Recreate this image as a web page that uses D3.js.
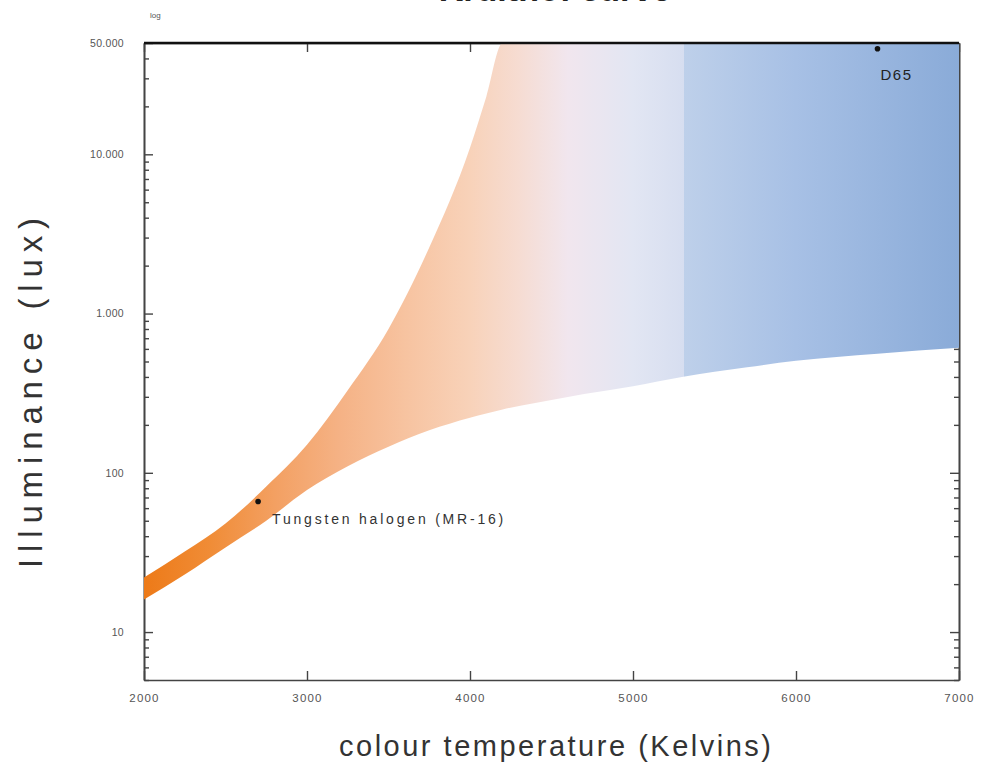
<!DOCTYPE html>
<html>
<head>
<meta charset="utf-8">
<script src="https://cdn.jsdelivr.net/npm/d3@7"></script>
<style>
body { margin:0; background:#fff; }
text { font-family:"Liberation Sans", Arial, sans-serif; }
</style>
</head>
<body>
<div class="chart"></div>
<script>
// colour temperature (K) and the band edges of the comfort zone (lux)
var kelvin   = [2000, 2250, 2500, 2750, 3000, 3250, 3500, 3750, 4000, 4100, 4200, 4400, 4700, 5000, 5300, 5700, 6000, 6500, 7000];
var upperLux = [22, 32, 48, 82, 150, 330, 800, 2600, 11000, 23000, 50000, 50000, 50000, 50000, 50000, 50000, 50000, 50000, 50000];
var lowerLux = [16, 23, 34, 50, 78, 110, 146, 185, 222, 236, 250, 274, 312, 350, 400, 460, 505, 560, 610];

// fill colour along the temperature axis
var gradKelvin = [2000, 2400, 2800, 3200, 3600, 4000, 4300, 4600, 5000, 5310, 5310, 6000, 7000];
var gradColors = ["#ed7a18", "#f08c36", "#f3a062", "#f5b285", "#f7c3a0", "#f8d2b9", "#f6dcd2", "#f1e6ee", "#e2e6f3", "#d7def0", "#bed0ea", "#a7c0e5", "#8aabd8"];

// ticks
var xTicks = [2000, 3000, 4000, 5000, 6000, 7000];
var yMajor = [10, 100, 1000, 10000, 50000];
var yLabels = ["10", "100", "1.000", "10.000", "50.000"];

// marked light sources
var points = [
    {name:"Tungsten halogen (MR-16)", k:2700, lux:66},
    {name:"D65", k:6500, lux:46000}
];

var W = 989, H = 767;
var x = d3.scaleLinear().domain([2000, 7000]).range([144, 959]);
var y = d3.scaleLog().domain([5, 50000]).range([680, 43]);

//minor log ticks 2..9 in every decade
var yMinor = [];
[1, 10, 100, 1000, 10000].forEach(function(d){
    d3.range(2, 10).forEach(function(m){
        var v = d*m;
        if (v >= 5 && v < 50000) yMinor.push(v);
    });
});

var svg = d3.select(".chart").append("svg").attr("width", W).attr("height", H);

// title, mostly cut off at the top edge
svg.append("text").attr("x", 555).attr("y", 1).attr("text-anchor", "middle")
    .attr("font-size", 34).attr("font-weight", "bold").attr("fill", "#222")
    .text("Kruithof curve");

svg.append("text").attr("x", 150).attr("y", 18).attr("font-size", 8).attr("fill", "#555").text("log");

function styleAxis(g, fs, ls){
    g.selectAll("path.domain").attr("stroke", "#444").attr("stroke-width", 1.6);
    g.selectAll(".tick line").attr("stroke", "#444").attr("stroke-width", 1.4);
    g.selectAll(".tick text").attr("fill", "#555").attr("font-size", fs || 10)
        .attr("letter-spacing", ls || 0).attr("font-family", "Liberation Sans, Arial, sans-serif");
}

//left axis: major + minor
var gl = svg.append("g").attr("transform", "translate(" + x(2000) + ",0)")
    .call(d3.axisLeft(y).tickValues(yMajor).tickFormat(function(d, i){ return yLabels[i]; })
        .tickSizeInner(-9).tickSizeOuter(0).tickPadding(20));
styleAxis(gl, 10.5, 0.3);
var glm = svg.append("g").attr("transform", "translate(" + x(2000) + ",0)")
    .call(d3.axisLeft(y).tickValues(yMinor).tickFormat("").tickSizeInner(-5).tickSizeOuter(0));
styleAxis(glm);

//right axis
var gr = svg.append("g").attr("transform", "translate(" + x(7000) + ",0)")
    .call(d3.axisRight(y).tickValues(yMajor).tickFormat("").tickSizeInner(-9).tickSizeOuter(0));
styleAxis(gr);
var grm = svg.append("g").attr("transform", "translate(" + x(7000) + ",0)")
    .call(d3.axisRight(y).tickValues(yMinor).tickFormat("").tickSizeInner(-5).tickSizeOuter(0));
styleAxis(grm);

//bottom axis
var gb = svg.append("g").attr("transform", "translate(0," + y(5) + ")")
    .call(d3.axisBottom(x).tickValues(xTicks).tickFormat(d3.format("d"))
        .tickSizeInner(-9).tickSizeOuter(0).tickPadding(14));
styleAxis(gb, 11.5, 1.2);

//top ticks
var gt = svg.append("g").attr("transform", "translate(0," + y(50000) + ")")
    .call(d3.axisTop(x).tickValues(xTicks).tickFormat("").tickSizeInner(-9).tickSizeOuter(0));
styleAxis(gt);

// gradient for the band
var grad = svg.append("defs").append("linearGradient").attr("id", "bandGrad")
    .attr("gradientUnits", "userSpaceOnUse")
    .attr("x1", x(2000)).attr("x2", x(7000)).attr("y1", 0).attr("y2", 0);
grad.selectAll("stop").data(gradKelvin).enter().append("stop")
    .attr("offset", function(d){ return (d - 2000)/5000; })
    .attr("stop-color", function(d, i){ return gradColors[i]; });

var area = d3.area()
    .x(function(d, i){ return x(kelvin[i]); })
    .y0(function(d, i){ return y(lowerLux[i]); })
    .y1(function(d, i){ return y(upperLux[i]); })
    .curve(d3.curveMonotoneX);

svg.append("path").datum(kelvin).attr("d", area).attr("fill", "url(#bandGrad)");

//top frame line over the fill
svg.append("line").attr("x1", x(2000)).attr("x2", x(7000)).attr("y1", y(50000)).attr("y2", y(50000))
    .attr("stroke", "#111").attr("stroke-width", 2.4);

// points and labels
svg.selectAll("circle.pt").data(points).enter().append("circle")
    .attr("cx", function(d){ return x(d.k); })
    .attr("cy", function(d){ return y(d.lux); })
    .attr("r", 2.8).attr("fill", "#111");

svg.append("text").attr("x", x(2700) + 14).attr("y", y(66) + 22)
    .attr("font-size", 14).attr("letter-spacing", 2.8).attr("fill", "#333")
    .text(points[0].name);
svg.append("text").attr("x", x(6500) + 3).attr("y", y(46000) + 31)
    .attr("font-size", 15).attr("letter-spacing", 1.5).attr("fill", "#222")
    .text(points[1].name);

// axis titles
svg.append("text").attr("transform", "translate(42,393) rotate(-90)").attr("text-anchor", "middle")
    .attr("font-size", 33).attr("fill", "#333")
    .attr("textLength", 350).attr("lengthAdjust", "spacing")
    .text("Illuminance (lux)");
svg.append("text").attr("x", 555).attr("y", 756).attr("text-anchor", "middle")
    .attr("font-size", 29).attr("fill", "#333")
    .attr("textLength", 432).attr("lengthAdjust", "spacing")
    .text("colour temperature (Kelvins)");
</script>
</body>
</html>
